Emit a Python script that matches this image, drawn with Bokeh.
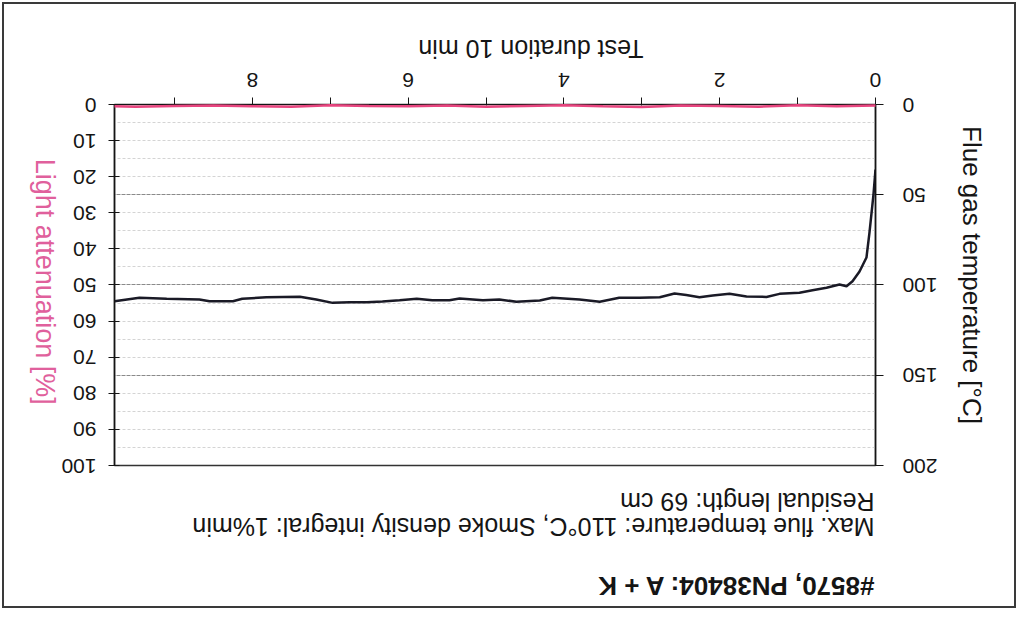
import math
from bokeh.plotting import figure
from bokeh.models import Range1d, LinearAxis, FixedTicker, Title, InlineStyleSheet
from bokeh.embed import file_html
from bokeh.resources import INLINE

# ---- data ----
time_temp = [0.0, 0.026, 0.077, 0.116, 0.205, 0.295, 0.372, 0.462, 0.629, 0.809,
             0.976, 1.232, 1.40, 1.656, 1.874, 2.09, 2.26, 2.43, 2.58, 2.77,
             3.03, 3.29, 3.54, 3.80, 4.15, 4.31, 4.61, 4.83, 5.04, 5.34,
             5.47, 5.69, 5.89, 6.11, 6.33, 6.53, 6.75, 6.97, 7.18, 7.39,
             7.82, 8.13, 8.25, 8.55, 8.68, 9.10, 9.45, 9.77]
flue_temp = [36, 49.9, 70.9, 84.8, 92.5, 97.9, 100.7, 99.7, 101.5, 102.9,
             104.3, 104.9, 106.6, 106.4, 104.9, 105.8, 106.8, 105.6, 104.7, 106.8,
             107.1, 107.1, 109.3, 108.0, 107.1, 108.6, 109.3, 108.0, 108.4, 107.5,
             108.4, 108.4, 107.6, 108.4, 109.1, 109.5, 109.5, 109.9, 108.0, 106.5,
             106.8, 107.6, 109.0, 109.0, 108.0, 107.6, 107.1, 109.0]
time_att = [0, 0.5, 1, 1.5, 2, 2.5, 3, 3.5, 4, 4.5, 5, 5.5, 6, 6.5, 7, 7.5, 8, 8.5, 9, 9.5, 9.77]
light_att = [0.3, 0.5, 0.2, 0.6, 0.4, 0.3, 0.7, 0.5, 0.2, 0.4, 0.6, 0.3, 0.5, 0.4, 0.2, 0.6,
             0.5, 0.3, 0.4, 0.6, 0.5]

x_major = [0, 2, 4, 6, 8]
x_minor = [1, 3, 5, 7, 9]
att_ticks = [0, 10, 20, 30, 40, 50, 60, 70, 80, 90, 100]
temp_ticks = [0, 50, 100, 150, 200]
temp_minor = [10, 20, 30, 40, 60, 70, 80, 90, 110, 120, 130, 140, 160, 170, 180, 190]

x_title = "Test duration 10 min"
att_title = "Light attenuation [%]"
temp_title = "Flue gas temperature [°C]"
info_title = "#8570, PN38404: A + K"
info_lines = ["Max. flue temperature: 110°C, Smoke density integral: 1%min",
              "Residual length: 69 cm"]

FONT = "Liberation Sans"
PINK = "#e8457f"
PINK_TXT = "#e0609c"
INK = "#151515"


def setp(obj, **kw):
    for k, v in kw.items():
        try:
            setattr(obj, k, v)
        except Exception:
            pass


def title_axis(range_name, anchor, text, color, size, standoff):
    """An axis without line or ticks whose single label is the axis title,
    reading upwards and anchored at a value of the axis scale."""
    ax = LinearAxis(ticker=FixedTicker(ticks=[anchor], minor_ticks=[]))
    if range_name:
        ax.y_range_name = range_name
    ax.major_label_overrides = {anchor: text}
    ax.major_label_orientation = math.pi / 2
    ax.major_label_text_font = FONT
    ax.major_label_text_font_size = size
    ax.major_label_text_color = color
    ax.major_label_standoff = standoff
    ax.major_tick_out = 0
    ax.major_tick_in = 0
    ax.axis_line_color = None
    ax.major_tick_line_color = None
    return ax


# The scanned reference is upside down: the chart is built upright and the
# whole figure is turned by 180 degrees with CSS.
W, H = 1018, 610
css = InlineStyleSheet(css=":host { transform: rotate(180deg); }")
p = figure(width=W, height=H, output_backend="svg", toolbar_location=None,
           x_range=Range1d(0, 9.77), y_range=Range1d(0, 200),
           min_border_left=142, min_border_right=115,
           min_border_top=144, min_border_bottom=105,
           stylesheets=[css])
p.styles = {"transform": "rotate(180deg)", "outline": "2px solid #3a3a3a",
            "outline-offset": "-4px", "background-color": "white"}
p.border_fill_color = None
p.background_fill_color = "white"
p.extra_y_ranges = {"att": Range1d(0, 100)}
p.outline_line_color = "#333333"
p.outline_line_width = 1.5
p.xgrid.visible = False

# temperature grid
g = p.ygrid[0]
g.ticker = FixedTicker(ticks=temp_ticks, minor_ticks=temp_minor)
g.grid_line_color = "#8a8a8a"
g.grid_line_dash = "4 1"
g.minor_grid_line_color = "#d4d4d4"
g.minor_grid_line_dash = "3 2"

# x axis
xa = p.xaxis[0]
xa.ticker = FixedTicker(ticks=x_major, minor_ticks=x_minor)
xa.major_label_text_font = FONT
xa.major_label_text_font_size = "21px"
xa.major_label_text_color = INK
xa.major_label_standoff = 11
xa.major_tick_out = 7
xa.major_tick_in = 1
xa.minor_tick_out = 7
xa.minor_tick_in = 1
xa.axis_line_color = INK
xa.major_tick_line_color = INK
xa.minor_tick_line_color = INK

# left axis: flue gas temperature
ta = p.yaxis[0]
ta.ticker = FixedTicker(ticks=temp_ticks, minor_ticks=[])
ta.major_label_text_font = FONT
ta.major_label_text_font_size = "21px"
ta.major_label_text_color = INK
ta.major_label_standoff = 19
ta.major_tick_out = 8
ta.major_tick_in = 0
ta.axis_line_color = INK
ta.axis_line_width = 1.5
ta.major_tick_line_color = INK
p.add_layout(title_axis(None, 177, temp_title, INK, "26px", 31), "left")

# right axis: light attenuation
aa = LinearAxis(y_range_name="att", ticker=FixedTicker(ticks=att_ticks, minor_ticks=[]))
aa.major_label_text_font = FONT
aa.major_label_text_font_size = "21px"
aa.major_label_text_color = INK
aa.major_label_standoff = 12
aa.major_tick_out = 6
aa.major_tick_in = 5
aa.axis_line_color = INK
aa.axis_line_width = 1.5
aa.major_tick_line_color = INK
p.add_layout(aa, "right")
p.add_layout(title_axis("att", 15, att_title, PINK_TXT, "27px", 14), "right")

# series
p.line(time_temp, flue_temp, line_color="#1a1a26", line_width=2.5)
pl = p.line(time_att, light_att, y_range_name="att", line_color=PINK, line_width=2.5)
pl.level = "overlay"

# x axis title (as a title below, offset like the original)
p.add_layout(Title(text=x_title, align="left", offset=232, text_font=FONT,
                   text_font_size="25px", text_font_style="normal", text_color=INK), "below")

# info texts above the chart (closest first)
t1 = Title(text="\n".join(info_lines), align="left", offset=1, text_font=FONT,
           text_font_size="25px", text_font_style="normal", text_color=INK,
           vertical_align="bottom")
setp(t1, text_line_height=0.92, standoff=44)
p.add_layout(t1, "above")
t2 = Title(text=info_title, align="left", offset=1, text_font=FONT,
           text_font_size="26px", text_font_style="bold", text_color=INK,
           vertical_align="bottom")
setp(t2, standoff=11)
p.add_layout(t2, "above")

open("out.html", "w").write(file_html(p, INLINE))
